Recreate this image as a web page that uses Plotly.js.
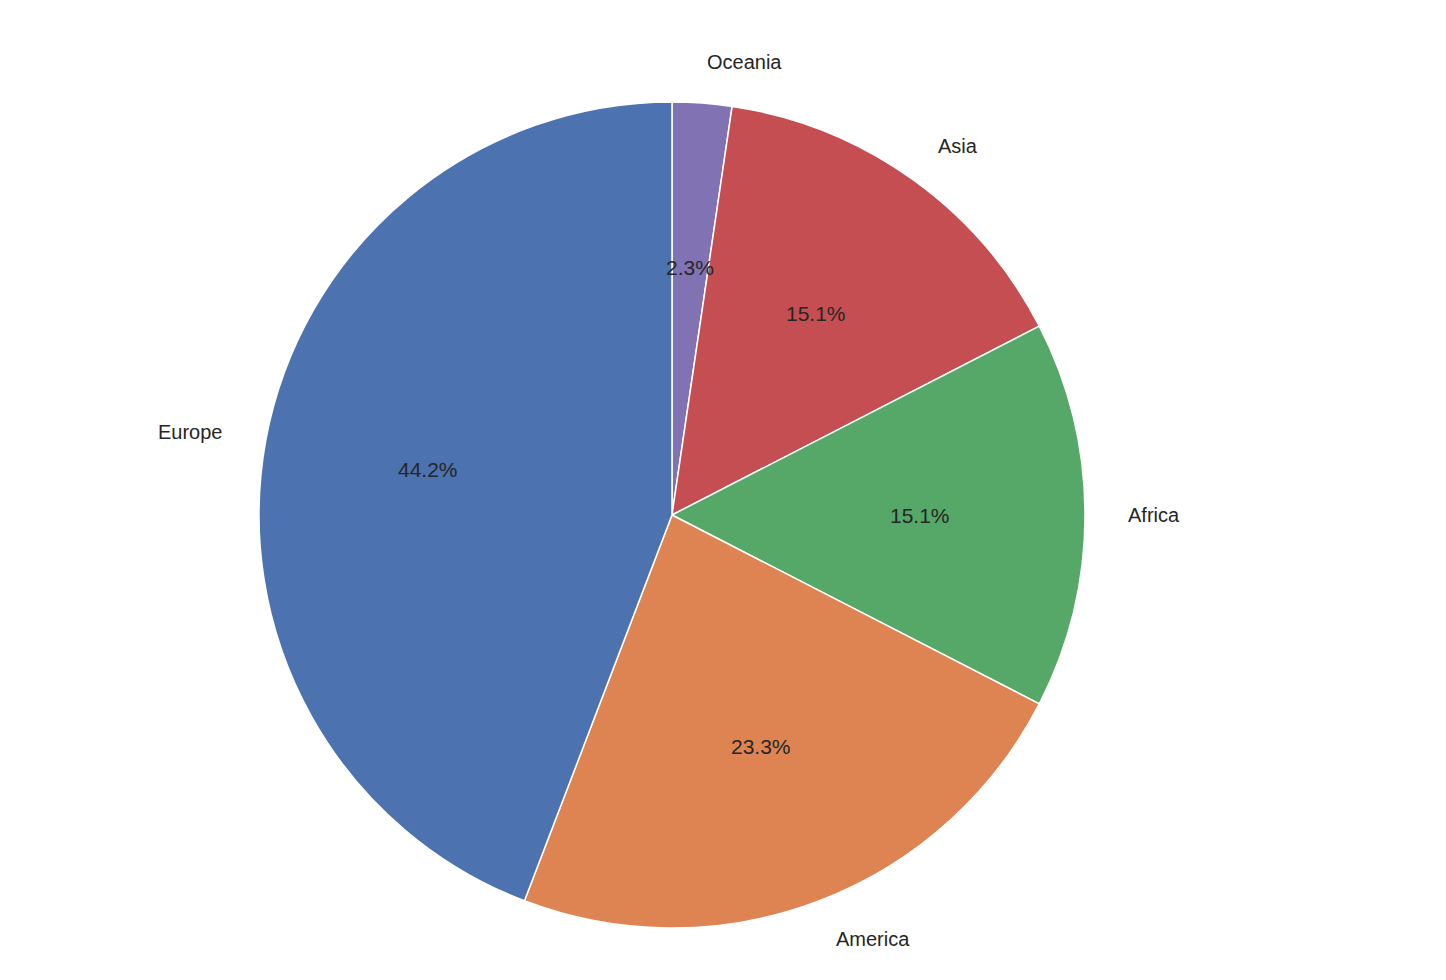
<!DOCTYPE html>
<html>
<head>
<meta charset="utf-8">
<script src="https://cdn.plot.ly/plotly-3.0.1.min.js"></script>
<style>html,body{margin:0;padding:0;background:#fff}#chart{width:1446px;height:980px}</style>
</head>
<body>
<div id="chart"></div>
<script>
var regions = ['Europe', 'America', 'Africa', 'Asia', 'Oceania'];
var counts = [38, 20, 13, 13, 2];
var colors = ['#4C72B0', '#DD8452', '#55A868', '#C44E52', '#8172B3'];

function makePie(divId){
    var W = 1446, H = 980;
    var cx = 672, cy = 515, r = 413;

    // matplotlib goes counterclockwise from 12 o'clock; same thing = reversed order clockwise
    var data = [{
        type: 'pie',
        labels: regions.slice().reverse(),
        values: counts.slice().reverse(),
        sort: false,
        direction: 'clockwise',
        rotation: 0,
        textinfo: 'none',
        hoverinfo: 'label+percent',
        marker: {colors: colors.slice().reverse(), line: {color: '#ffffff', width: 1.5}},
        domain: {x: [(cx - r) / W, (cx + r) / W], y: [1 - (cy + r) / H, 1 - (cy - r) / H]},
        showlegend: false
    }];

    // labels at 1.1 r, percentages at 0.6 r, like matplotlib
    var total = counts.reduce(function(a, b){ return a + b; }, 0);
    var annotations = [];
    var cum = 0;
    for (var i = 0; i < counts.length; i++) {
        var a1 = 90 + 360 * cum / total;
        cum += counts[i];
        var a2 = 90 + 360 * cum / total;
        var mid = (a1 + a2) / 2 * Math.PI / 180;
        var c = Math.cos(mid), s = Math.sin(mid);
        annotations.push({
            xref: 'paper', yref: 'paper', showarrow: false,
            x: (cx + 1.1 * r * c) / W, y: 1 - (cy - 1.1 * r * s) / H,
            xanchor: c < 0 ? 'right' : 'left', yanchor: 'middle',
            text: regions[i],
            font: {family: 'Liberation Sans, Arial, sans-serif', size: 20, color: '#262626'}
        });
        annotations.push({
            xref: 'paper', yref: 'paper', showarrow: false,
            x: (cx + 0.6 * r * c) / W, y: 1 - (cy - 0.6 * r * s) / H,
            xanchor: 'center', yanchor: 'middle',
            text: (100 * counts[i] / total).toFixed(1) + '%',
            font: {family: 'Liberation Sans, Arial, sans-serif', size: 21, color: '#262626'}
        });
    }

    var layout = {
        width: W, height: H,
        margin: {l: 0, r: 0, t: 0, b: 0},
        paper_bgcolor: '#ffffff',
        annotations: annotations
    };
    Plotly.newPlot(divId, data, layout, {displayModeBar: false});
}

makePie('chart');
</script>
</body>
</html>
